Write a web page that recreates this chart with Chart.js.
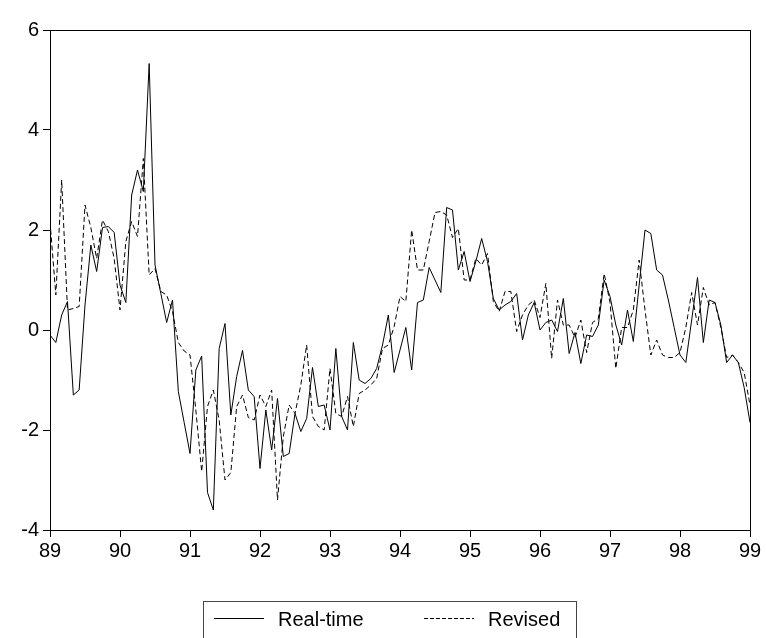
<!DOCTYPE html>
<html>
<head>
<meta charset="utf-8">
<script src="https://cdn.jsdelivr.net/npm/chart.js@4.4.1/dist/chart.umd.min.js"></script>
<style>
  body { margin: 0; background: #fff; }
  #wrap { position: relative; width: 766px; height: 638px; overflow: hidden; }
  #legend {
    position: absolute; left: 203px; top: 601px; width: 374px; height: 50px;
    border: 1px solid #444; box-sizing: border-box;
    font: 20px "Liberation Sans", Arial, sans-serif; color: #000;
  }
  #legend svg { position: absolute; top: 0; left: 0; }
  #legend span { position: absolute; top: 6px; }
</style>
</head>
<body>
<div id="wrap">
  <canvas id="rtChart" width="766" height="638"></canvas>
  <div id="legend">
    <svg width="374" height="40">
      <line x1="10" y1="16.5" x2="60" y2="16.5" stroke="#000" stroke-width="1"/>
      <line x1="220" y1="16.5" x2="270" y2="16.5" stroke="#000" stroke-width="1" stroke-dasharray="4,2"/>
    </svg>
    <span style="left:74px">Real-time</span>
    <span style="left:284px">Revised</span>
  </div>
</div>
<script>
// monthly observations, 1989:01 .. 1999:01
const yearLabels = ['89','90','91','92','93','94','95','96','97','98','99'];

const realTime = [
  -0.1, -0.25, 0.3, 0.57, -1.3, -1.2, 0.5, 1.7, 1.17, 2.05, 2.07, 1.95,
  0.9, 0.55, 2.7, 3.2, 2.77, 5.33, 1.3, 0.73, 0.15, 0.6, -1.23, -1.85,
  -2.47, -0.8, -0.52, -3.25, -3.6, -0.37, 0.13, -1.7, -0.93, -0.41, -1.2, -1.33,
  -2.77, -1.6, -2.4, -1.37, -2.53, -2.47, -1.67, -2.03, -1.77, -0.75, -1.53, -1.5,
  -2.0, -0.37, -1.73, -2.0, -0.25, -1.0, -1.07, -0.97, -0.77, -0.3, 0.3, -0.85,
  -0.4, 0.05, -0.8, 0.55, 0.6, 1.25, 1.0, 0.75, 2.45, 2.4, 1.2, 1.57,
  0.97, 1.37, 1.83, 1.37, 0.63, 0.4, 0.5, 0.57, 0.73, -0.2, 0.3, 0.55,
  0.0, 0.15, 0.2, -0.03, 0.63, -0.47, -0.05, -0.67, -0.1, -0.13, 0.1, 1.0,
  0.67, 0.1, -0.3, 0.4, -0.23, 0.9, 2.0, 1.93, 1.2, 1.1, 0.6, 0.05,
  -0.5, -0.65, 0.2, 1.05, -0.25, 0.6, 0.55, 0.1, -0.65, -0.5, -0.65, -1.15,
  -1.85
];

const revised = [
  2.17, 0.7, 3.0, 0.4, 0.43, 0.47, 2.5, 2.05, 1.43, 2.2, 1.97, 1.43,
  0.4, 1.77, 2.17, 1.87, 3.43, 1.1, 1.23, 0.77, 0.7, 0.37, -0.25, -0.42,
  -0.5, -1.6, -2.83, -1.53, -1.2, -1.8, -3.0, -2.85, -1.53, -1.3, -1.75, -1.8,
  -1.3, -1.53, -1.2, -3.4, -2.13, -1.5, -1.67, -1.1, -0.3, -1.73, -1.93, -2.0,
  -0.77, -1.67, -1.73, -1.33, -1.93, -1.27, -1.2, -1.1, -0.97, -0.37, -0.3, 0.07,
  0.67, 0.57, 2.0, 1.2, 1.2, 1.77, 2.35, 2.37, 2.3, 1.85, 2.03, 1.0,
  1.0, 1.43, 1.3, 1.53, 0.57, 0.37, 0.77, 0.77, -0.03, 0.3, 0.5, 0.6,
  0.25, 0.93, -0.57, 0.6, 0.1, 0.1, -0.15, 0.2, -0.45, 0.15, 0.23, 1.13,
  0.55, -0.77, 0.05, 0.05, 0.4, 1.4, 0.4, -0.5, -0.2, -0.5, -0.55, -0.55,
  -0.45, 0.05, 0.75, 0.1, 0.85, 0.5, 0.55, 0.05, -0.55, -0.5, -0.65, -0.85,
  -1.5
];

const toPoints = arr => arr.map((v, i) => ({ x: i, y: v }));

// full box around the plot
const frame = {
  id: 'frame',
  afterDraw(chart) {
    const { ctx, chartArea: a } = chart;
    ctx.save();
    ctx.strokeStyle = '#000';
    ctx.lineWidth = 1;
    ctx.strokeRect(a.left + 0.5, a.top + 0.5, a.right - a.left, a.bottom - a.top);
    ctx.restore();
  }
};

Chart.defaults.font.family = '"Liberation Sans", Arial, sans-serif';
Chart.defaults.color = '#000';

new Chart(document.getElementById('rtChart'), {
  type: 'line',
  data: {
    datasets: [{
      label: 'Real-time',
      data: toPoints(realTime),
      borderColor: '#000',
      borderWidth: 1,
      pointRadius: 0,
      tension: 0
    }, {
      label: 'Revised',
      data: toPoints(revised),
      borderColor: '#000',
      borderWidth: 1,
      borderDash: [5, 3],
      pointRadius: 0,
      tension: 0
    }]
  },
  options: {
    responsive: false,
    animation: false,
    layout: { padding: { top: 30, right: 16, left: 0, bottom: 0 } },
    plugins: { legend: { display: false }, tooltip: { enabled: false } },
    scales: {
      x: {
        type: 'linear',
        min: 0, max: 120,
        grid: { drawOnChartArea: false, drawTicks: true, tickLength: 7, color: '#000' },
        border: { color: '#000' },
        ticks: {
          stepSize: 12, padding: 2, maxRotation: 0,
          font: { size: 20 },
          callback: v => yearLabels[v / 12]
        },
        afterFit: s => { s.height = 108; }
      },
      y: {
        min: -4, max: 6,
        grid: { drawOnChartArea: false, drawTicks: true, tickLength: 7, color: '#000' },
        border: { color: '#000' },
        ticks: { stepSize: 2, padding: 4, font: { size: 20 } },
        afterFit: s => { s.width = 50; }
      }
    }
  },
  plugins: [frame]
});
</script>
</body>
</html>
